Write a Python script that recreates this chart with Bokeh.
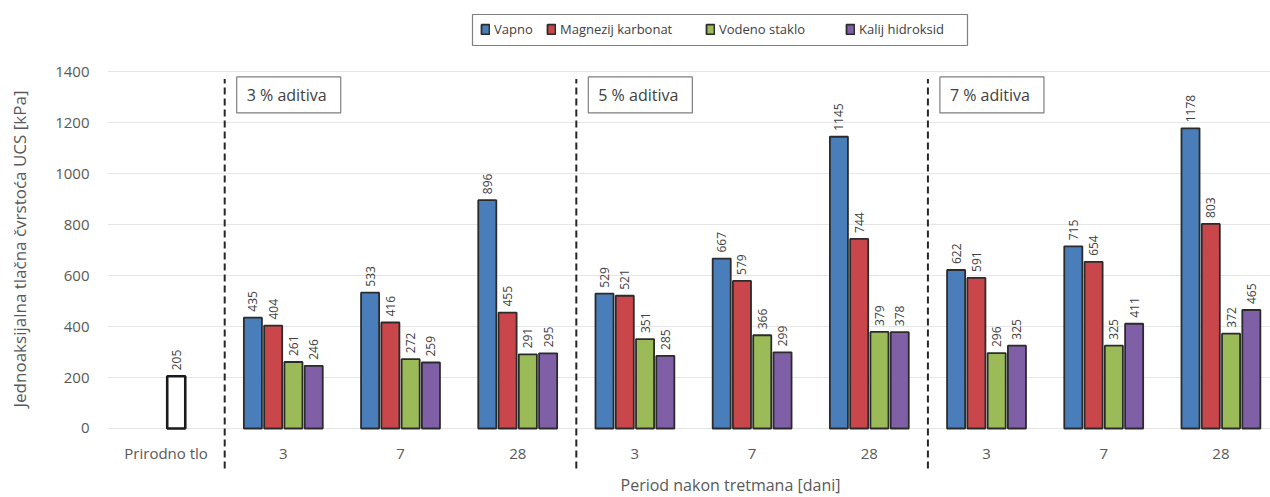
import numpy as np
from bokeh.plotting import figure
from bokeh.models import Range1d, FixedTicker, ColumnDataSource, Label, Legend, LegendItem
from bokeh.embed import file_html
from bokeh.resources import INLINE
from bokeh.core.properties import value

# ---------------- data ----------------
categories = ["Prirodno tlo", "3", "7", "28", "3", "7", "28", "3", "7", "28"]
natural_soil = [205]
series_names = ["Vapno", "Magnezij karbonat", "Vodeno staklo", "Kalij hidroksid"]
vapno = [435, 533, 896, 529, 667, 1145, 622, 715, 1178]
magnezij_karbonat = [404, 416, 455, 521, 579, 744, 591, 654, 803]
vodeno_staklo = [261, 272, 291, 351, 366, 379, 296, 325, 372]
kalij_hidroksid = [246, 259, 295, 285, 299, 378, 325, 411, 465]
panel_labels = ["3 % aditiva", "5 % aditiva", "7 % aditiva"]
y_ticks = [0, 200, 400, 600, 800, 1000, 1200, 1400]
x_axis_title = "Period nakon tretmana [dani]"
y_axis_title = "Jednoaksijalna tlačna čvrstoća UCS [kPa]"

# ---------------- style / layout ----------------
FONT = "Open Sans"
colors = ["#4A7EBB", "#C9474A", "#9BBB59", "#7F5FA6"]
outline = "#2b2b2b"
axis_text = "#595959"
label_text = "#404040"
pitch = 0.173
bar_w = 0.154

W, H = 1270, 497
LEFT = 107
X0, X1 = -0.5, 9.423
Y0, Y1 = -270.8, 1679.7


def px_x(px):
    return X0 + (px - LEFT) * (X1 - X0) / (W - LEFT)


def px_y(py):
    return Y1 - py * (Y1 - Y0) / H


p = figure(width=W, height=H,
           x_range=Range1d(X0, X1), y_range=Range1d(Y0, Y1),
           output_backend="svg", toolbar_location=None,
           min_border_left=LEFT, min_border_right=0, min_border_top=0, min_border_bottom=0)
p.outline_line_color = None
p.background_fill_color = "white"
p.border_fill_color = "white"

# group boundaries (dashed separators)
n_groups = len(vapno)
group_x = np.arange(1, n_groups + 1)
sep_x = [0.5, 3.5, 6.5]
p.segment(x0=sep_x, y0=[-157] * 3, x1=sep_x, y1=[1372] * 3,
          line_color="#262626", line_width=2, line_dash="7 4")

# natural soil bar
nat_src = ColumnDataSource(dict(x=[0 + 0.5 * pitch], top=natural_soil,
                                label=[str(v) for v in natural_soil]))
p.vbar(x="x", top="top", width=bar_w, source=nat_src,
       fill_color="white", line_color="#1a1a1a", line_width=2.6)
p.text(x="x", y="top", text="label", source=nat_src, angle=np.pi / 2,
       text_align="left", text_baseline="middle", y_offset=-6,
       text_font=value(FONT), text_font_size="12px", text_color=label_text)

all_series = [vapno, magnezij_karbonat, vodeno_staklo, kalij_hidroksid]
offsets = [-1.5, -0.5, 0.5, 1.5]
renderers = []
for name, vals, col, off in zip(series_names, all_series, colors, offsets):
    src = ColumnDataSource(dict(x=group_x + off * pitch, top=vals,
                                label=[str(v) for v in vals]))
    r = p.vbar(x="x", top="top", width=bar_w, source=src,
               fill_color=col, line_color=outline, line_width=1.8)
    p.text(x="x", y="top", text="label", source=src, angle=np.pi / 2,
           text_align="left", text_baseline="middle", y_offset=-6,
           text_font=value(FONT), text_font_size="12px", text_color=label_text)
    renderers.append(r)

# panel labels
for k, txt in enumerate(panel_labels):
    p.add_layout(Label(x=sep_x[k], y=1309, x_offset=12, text=txt,
                       text_align="left", text_baseline="middle",
                       padding=dict(left=10, right=14, top=7, bottom=7),
                       border_line_color="#7f7f7f", border_line_width=1.2,
                       background_fill_color="white",
                       text_font=FONT, text_font_size="16px", text_color=label_text))

# legend frame + one legend entry per series (Excel-like uneven spacing)
p.quad(left=[px_x(472)], right=[px_x(967)], top=[px_y(14)], bottom=[px_y(45)],
       fill_color="white", line_color="#7f7f7f", line_width=1.2)
legend_px = [480, 546, 705, 845]
for name, r, lx in zip(series_names, renderers, legend_px):
    lg = Legend(items=[LegendItem(label=name, renderers=[r])],
                location=(lx - LEFT, H - 38),
                glyph_width=10, glyph_height=12, label_height=16, padding=0,
                label_standoff=4, margin=0,
                label_text_font=FONT, label_text_font_size="13px",
                label_text_color=label_text,
                border_line_color=None, background_fill_alpha=0)
    p.add_layout(lg)

# y axis
yt = FixedTicker(ticks=y_ticks)
p.yaxis.ticker = yt
p.ygrid.ticker = yt
p.ygrid.grid_line_color = "#e6e6e6"
p.ygrid.grid_line_width = 1
p.xgrid.visible = False
p.yaxis.axis_line_color = None
p.yaxis.major_tick_line_color = None
p.yaxis.minor_tick_line_color = None
p.yaxis.major_label_text_font = FONT
p.yaxis.major_label_text_font_size = "15px"
p.yaxis.major_label_text_color = axis_text
p.yaxis.major_label_standoff = 12
p.yaxis.axis_label = y_axis_title
p.yaxis.axis_label_text_font = FONT
p.yaxis.axis_label_text_font_size = "17px"
p.yaxis.axis_label_text_font_style = "normal"
p.yaxis.axis_label_text_color = axis_text
p.yaxis.axis_label_standoff = 21

# x axis (category labels under the zero line)
p.xaxis.ticker = FixedTicker(ticks=list(range(len(categories))))
p.xaxis.major_label_overrides = {i: c for i, c in enumerate(categories)}
p.xaxis.fixed_location = 0
p.xaxis.axis_line_color = None
p.xaxis.major_tick_line_color = None
p.xaxis.minor_tick_line_color = None
p.xaxis.major_label_text_font = FONT
p.xaxis.major_label_text_font_size = "15px"
p.xaxis.major_label_text_color = axis_text
p.xaxis.major_label_standoff = 9

# x axis title (placed as in the original, right of the plot centre)
p.add_layout(Label(x=px_x(730), y=px_y(484), text=x_axis_title,
                   text_align="center", text_baseline="middle",
                   text_font=FONT, text_font_size="16px", text_color=axis_text))

open("out.html", "w").write(file_html(p, INLINE, "chart"))
